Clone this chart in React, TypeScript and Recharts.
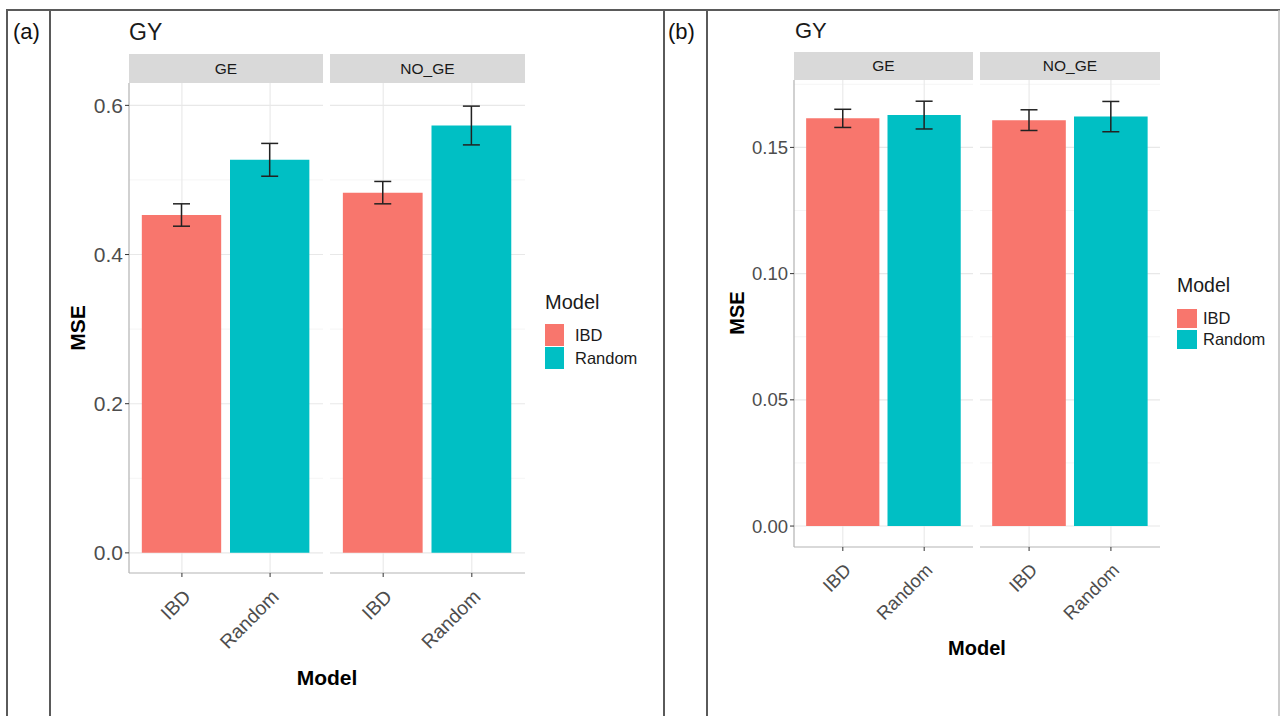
import React from "react";
import { BarChart, Bar, XAxis, YAxis, CartesianGrid, ErrorBar, Cell } from "recharts";

const models = ["IBD", "Random"];
const facets = ["GE", "NO_GE"];
const modelColors = ["#F8766D", "#00BFC4"];

// panel (a): MSE per model, GE / NO_GE
const mseA_GE = [0.453, 0.527];
const seA_GE = [0.015, 0.022];
const mseA_NOGE = [0.483, 0.573];
const seA_NOGE = [0.015, 0.026];
const ticksA = [0, 0.2, 0.4, 0.6];
const minorA = [0.1, 0.3, 0.5];

// panel (b)
const mseB_GE = [0.1615, 0.1628];
const seB_GE = [0.0036, 0.0055];
const mseB_NOGE = [0.1608, 0.1622];
const seB_NOGE = [0.0041, 0.006];
const ticksB = [0, 0.05, 0.1, 0.15];
const minorB = [0.025, 0.075, 0.125, 0.175];

const FONT = '"Liberation Sans", Arial, Helvetica, sans-serif';

const rows = (mse: number[], se: number[]) =>
  models.map((m, i) => ({ model: m, mse: mse[i], se: se[i] }));

interface FacetProps {
  left: number;
  top: number;
  w: number;
  h: number;
  data: { model: string; mse: number; se: number }[];
  domain: [number, number];
  ticks: number[];
  minor: number[];
  digits: number;
  showY: boolean;
  yFont: number;
  xFont: number;
}

const XTick = (props: any) => {
  const { x, y, payload, fontSize } = props;
  return (
    <g transform={`translate(${x},${y})`}>
      <text
        transform="rotate(-45)"
        textAnchor="end"
        dy="0.72em"
        fill="#4d4d4d"
        fontSize={fontSize}
        fontFamily={FONT}
      >
        {payload.value}
      </text>
    </g>
  );
};

const Facet: React.FC<FacetProps> = ({
  left, top, w, h, data, domain, ticks, minor, digits, showY, yFont, xFont,
}) => {
  const yW = showY ? 70 : 0;
  const xH = 110;
  const unit = w / 2.2;
  const pad = unit * 0.1;
  return (
    <div style={{ position: "absolute", left: left - yW, top }}>
      <BarChart
        width={w + yW}
        height={h + xH}
        data={data}
        margin={{ top: 0, right: 0, bottom: 0, left: 0 }}
        style={{ overflow: "visible" }}
      >
        <CartesianGrid
          stroke="#f3f3f3"
          strokeWidth={0.8}
          vertical={false}
          horizontalValues={minor}
          syncWithTicks
        />
        <CartesianGrid stroke="#e8e8e8" strokeWidth={1.1} horizontalValues={ticks} syncWithTicks />
        <XAxis
          dataKey="model"
          type="category"
          interval={0}
          padding={{ left: pad, right: pad }}
          height={xH}
          tickSize={4}
          tickMargin={11}
          axisLine={{ stroke: "#b3b3b3", strokeWidth: 1.2 }}
          tickLine={{ stroke: "#333", strokeWidth: 1 }}
          tick={<XTick fontSize={xFont} />}
        />
        <YAxis
          hide={!showY}
          type="number"
          domain={domain}
          allowDataOverflow
          ticks={ticks}
          width={yW}
          tickSize={4}
          tickMargin={2}
          tickFormatter={(v: number) => v.toFixed(digits)}
          axisLine={{ stroke: "#b3b3b3", strokeWidth: 1.2 }}
          tickLine={{ stroke: "#333", strokeWidth: 1 }}
          tick={{ fill: "#4d4d4d", fontSize: yFont, fontFamily: FONT }}
        />
        <Bar dataKey="mse" barSize={unit * 0.9} isAnimationActive={false}>
          {data.map((d, i) => (
            <Cell key={d.model} fill={modelColors[i]} />
          ))}
          <ErrorBar dataKey="se" width={8.5} stroke="#222" strokeWidth={1.5} direction="y" />
        </Bar>
      </BarChart>
    </div>
  );
};

const Strip = ({ x, y, w, h, label, fs }: any) => (
  <g>
    <rect x={x} y={y} width={w} height={h} fill="#d9d9d9" />
    <text
      x={x + w / 2}
      y={y + h / 2}
      dy="0.35em"
      textAnchor="middle"
      fontSize={fs}
      fill="#1a1a1a"
      fontFamily={FONT}
    >
      {label}
    </text>
  </g>
);

const LegendBox = ({ x, y, titleFs, fs, keyW, keyH, gap, labelX, tOff }: any) => (
  <g fontFamily={FONT}>
    <text x={x} y={y} fontSize={titleFs} fill="#1a1a1a">
      Model
    </text>
    {models.map((m, i) => (
      <g key={m}>
        <rect x={x} y={y + tOff + i * (keyH + gap)} width={keyW} height={keyH} fill={modelColors[i]} />
        <text
          x={labelX}
          y={y + tOff + i * (keyH + gap) + keyH / 2}
          dy="0.36em"
          fontSize={fs}
          fill="#1a1a1a"
        >
          {m}
        </text>
      </g>
    ))}
  </g>
);

export default function App() {
  return (
    <div
      style={{
        position: "absolute",
        left: 0,
        top: 0,
        width: 1280,
        height: 716,
        background: "#fff",
        overflow: "hidden",
        fontFamily: FONT,
      }}
    >
      <svg width={1280} height={716} style={{ position: "absolute", left: 0, top: 0 }}>
        {/* table frame */}
        <g stroke="#5a5a5a" strokeWidth={2}>
          <line x1={6} x2={1280} y1={10} y2={10} />
          <line x1={7} x2={7} y1={10} y2={716} />
          <line x1={50} x2={50} y1={10} y2={716} />
          <line x1={664} x2={664} y1={10} y2={716} />
          <line x1={707} x2={707} y1={10} y2={716} />
        </g>
        <line x1={1279} x2={1279} y1={10} y2={716} stroke="#bbb" strokeWidth={1.5} />

        <text x={13} y={39} fontSize={22} fill="#111">(a)</text>
        <text x={668} y={39} fontSize={22} fill="#111">(b)</text>

        {/* panel a decorations */}
        <text x={129} y={40} fontSize={23} fill="#1a1a1a">GY</text>
        <Strip x={129} y={54} w={194} h={29} label={facets[0]} fs={15.5} />
        <Strip x={330} y={54} w={195} h={29} label={facets[1]} fs={15.5} />
        <text
          transform="translate(85,328) rotate(-90)"
          textAnchor="middle"
          fontSize={21}
          fontWeight="bold"
          fill="#000"
        >
          MSE
        </text>
        <text x={327} y={685} textAnchor="middle" fontSize={21} fontWeight="bold" fill="#000">
          Model
        </text>
        <LegendBox x={545} y={309} titleFs={20} fs={16.5} keyW={19} keyH={22} gap={1} labelX={575} tOff={15} />

        {/* panel b decorations */}
        <text x={795} y={38} fontSize={22} fill="#1a1a1a">GY</text>
        <Strip x={794} y={52} w={179} h={28} label={facets[0]} fs={15.5} />
        <Strip x={980} y={52} w={180} h={28} label={facets[1]} fs={15.5} />
        <text
          transform="translate(744,313) rotate(-90)"
          textAnchor="middle"
          fontSize={20}
          fontWeight="bold"
          fill="#000"
        >
          MSE
        </text>
        <text x={977} y={655} textAnchor="middle" fontSize={20} fontWeight="bold" fill="#000">
          Model
        </text>
        <LegendBox x={1177} y={292} titleFs={19.5} fs={16.5} keyW={20} keyH={19} gap={2} labelX={1203} tOff={17} />
      </svg>

      <Facet left={129} top={83} w={194} h={490} data={rows(mseA_GE, seA_GE)} domain={[-0.027, 0.63]}
        ticks={ticksA} minor={minorA} digits={1} showY yFont={21} xFont={19.5} />
      <Facet left={330} top={83} w={195} h={490} data={rows(mseA_NOGE, seA_NOGE)} domain={[-0.027, 0.63]}
        ticks={ticksA} minor={minorA} digits={1} showY={false} yFont={21} xFont={19.5} />
      <Facet left={794} top={80} w={179} h={467} data={rows(mseB_GE, seB_GE)} domain={[-0.0083, 0.1767]}
        ticks={ticksB} minor={minorB} digits={2} showY yFont={18.5} xFont={18.5} />
      <Facet left={980} top={80} w={180} h={467} data={rows(mseB_NOGE, seB_NOGE)} domain={[-0.0083, 0.1767]}
        ticks={ticksB} minor={minorB} digits={2} showY={false} yFont={18.5} xFont={18.5} />
    </div>
  );
}
